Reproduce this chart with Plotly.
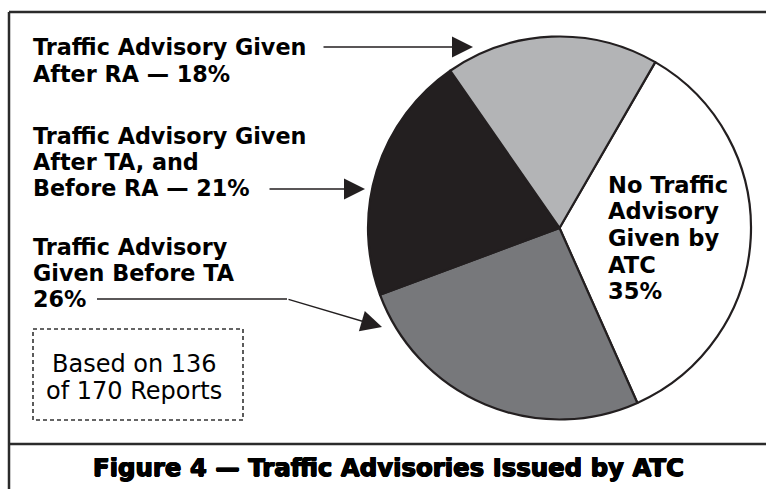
import plotly.graph_objects as go

### Données du graphique ###

categories = [
    "No Traffic Advisory Given by ATC",
    "Traffic Advisory Given Before TA",
    "Traffic Advisory Given After TA, and Before RA",
    "Traffic Advisory Given After RA",
]
shares = [35, 26, 21, 18]
slice_colors = ["#ffffff", "#77787b", "#231f20", "#b3b4b6"]

# texte des étiquettes, ligne par ligne ({v} = pourcentage)
label_lines = [
    ["No Traffic", "Advisory", "Given by", "ATC", "{v}%"],
    ["Traffic Advisory", "Given Before TA", "{v}%"],
    ["Traffic Advisory Given", "After TA, and", "Before RA — {v}%"],
    ["Traffic Advisory Given", "After RA — {v}%"],
]
note_lines = ["Based on 136", "of 170 Reports"]
title_text = "Figure 4 — Traffic Advisories Issued by ATC"

W, H = 766, 489
INK = "#231f20"


def px(x):
    return x / W


def py(y):
    return 1 - y / H


fig = go.Figure()

fig.add_trace(go.Pie(
    labels=categories,
    values=shares,
    sort=False,
    direction="clockwise",
    rotation=30,
    textinfo="none",
    hoverinfo="label+percent",
    marker=dict(colors=slice_colors, line=dict(color=INK, width=2.2)),
    domain=dict(x=[px(368), px(751)], y=[py(420), py(36)]),
    showlegend=False,
))

# position (gauche, centre de la 1re ligne, interligne, taille) de chaque étiquette
label_pos = [(606, 185, 26.5, 22.6), (31, 247, 25.8, 22.3),
             (31, 136.5, 25.5, 22.3), (31, 46.5, 27, 22.3)]

annotations = []
for lines, v, (x0, y0, step, size) in zip(label_lines, shares, label_pos):
    for i, line in enumerate(lines):
        annotations.append(dict(
            x=px(x0), y=py(y0 + i * step), xref="paper", yref="paper",
            text=line.format(v=v), showarrow=False,
            xanchor="left", yanchor="middle",
            font=dict(family="DejaVu Sans", size=size, color="black", weight="bold"),
        ))

# flèches vers les parts
arrow_style = dict(xref="paper", yref="paper", text="", showarrow=True,
                   arrowhead=2, arrowsize=3, arrowwidth=1.4, arrowcolor=INK,
                   axref="pixel", ayref="pixel")
annotations.append(dict(x=px(473), y=py(47), ax=-151, ay=0, **arrow_style))
annotations.append(dict(x=px(365), y=py(189), ax=-97, ay=0, **arrow_style))
annotations.append(dict(x=px(382), y=py(327), ax=-95, ay=-28, **arrow_style))

# note dans le cadre pointillé
for i, line in enumerate(note_lines):
    annotations.append(dict(
        x=px(134), y=py(364 + i * 26.5), xref="paper", yref="paper",
        text=line, showarrow=False, xanchor="center", yanchor="middle",
        font=dict(family="DejaVu Sans", size=24, color="black"),
    ))

# titre de la figure (graisse renforcée par une ombre)
annotations.append(dict(
    x=px(388.5), y=py(467.5), xref="paper", yref="paper",
    text=title_text, showarrow=False, xanchor="center", yanchor="middle",
    font=dict(family="DejaVu Sans", size=24.4, color="black", weight="bold",
              shadow="0.7px 0 0 black, -0.7px 0 0 black, 0 0.5px 0 black, 0 -0.5px 0 black"),
))

shapes = [
    # cadre
    dict(type="line", x0=px(9), x1=px(W + 5), y0=py(12), y1=py(12),
         xref="paper", yref="paper", line=dict(color="#2b2b2b", width=2.5)),
    dict(type="line", x0=px(9), x1=px(9), y0=py(12), y1=py(H + 5),
         xref="paper", yref="paper", line=dict(color="#2b2b2b", width=2.5)),
    dict(type="line", x0=px(9), x1=px(W + 5), y0=py(444), y1=py(444),
         xref="paper", yref="paper", line=dict(color="#2b2b2b", width=2.5)),
    # segment horizontal de la flèche 26 %
    dict(type="line", x0=px(97), x1=px(287), y0=py(299), y1=py(299),
         xref="paper", yref="paper", line=dict(color=INK, width=1.4)),
    # cadre pointillé
    dict(type="rect", x0=px(33), x1=px(243), y0=py(329), y1=py(420),
         xref="paper", yref="paper",
         line=dict(color="#333333", width=1.6, dash="4px,3px")),
]

fig.update_layout(
    width=W, height=H,
    margin=dict(l=0, r=0, t=0, b=0),
    paper_bgcolor="white",
    plot_bgcolor="white",
    annotations=annotations,
    shapes=shapes,
)

# pas de marge de page autour de la figure
fig.write_html("out.html",
               config={"displayModeBar": False},
               post_script="document.body.style.margin='0';"
                           "document.body.style.overflow='hidden';")
